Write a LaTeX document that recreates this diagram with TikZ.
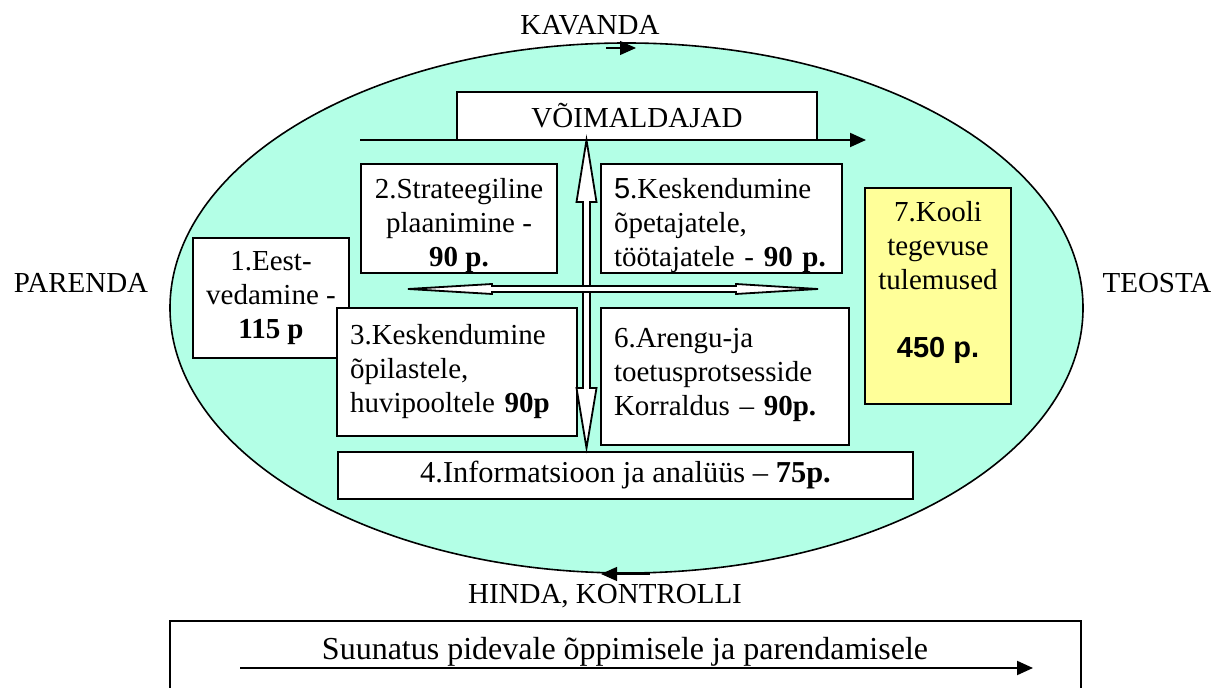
\documentclass[tikz,border=0pt]{standalone}
\usepackage{fontspec}
\setmainfont{Liberation Serif}
\setsansfont{Liberation Sans}
\usepackage{tikz}
\usetikzlibrary{arrows.meta}
\usetikzlibrary{shapes.geometric}
\definecolor{cyclefill}{RGB}{179,255,230}
\definecolor{resultfill}{RGB}{255,255,153}
\tikzset{basic/.style={draw,fill=white,line width=1pt,inner sep=0pt}}
\tikzset{centred/.style={basic,align=center}}
\tikzset{lefted/.style={basic,align=left,inner xsep=6.5pt}}
\tikzset{phase/.style={anchor=base,inner sep=0pt}}
\newcommand{\pts}[1]{\textbf{#1}}

\begin{document}
\begin{tikzpicture}[%
		x = 0.5pt, y = -0.5pt, % pixel grid
		> = {Triangle[length=8pt,width=7pt]}, % arrow head style
		semithick, % line style
		every node/.style={font=\fontsize{14.5}{17}\selectfont}
		]
		\useasboundingbox (0,0) rectangle (1215,688);
		
		% Cycle
		\node[ellipse, draw, fill=cyclefill, line width=0.8pt,
		minimum width=456.5pt, minimum height=265pt, inner sep=0pt] (pdca) at (626.5,308) {};
		
		\node[phase] (kavanda) at (590,35) {KAVANDA};
		\node[phase] (parenda) at (81,293) {PARENDA};
		\node[phase] (teosta) at (1157,293) {TEOSTA};
		\node[phase] (hinda) at (605,604) {HINDA, KONTROLLI};
		
		\coordinate (kav1) at (606,48);
		\coordinate (kav2) at (636,48);
		\coordinate (hin1) at (650,574);
		\coordinate (hin2) at (601,574);
		\draw[->] (kav1) -- (kav2);
		\draw[->] (hin1) -- (hin2);
		
		% Enablers
		\node[centred, minimum width=180pt, minimum height=24pt] (enab) at (637,116) {VÕIMALDAJAD};
		\coordinate (enL) at (360,140);
		\coordinate (enR) at (866,140);
		\draw[->, line width=1pt] (enL) -- (enR);
		
		\node[centred, minimum width=78pt, minimum height=60pt] (lead) at (271,298)
		{1.Eest-\\vedamine -\\\pts{115 p}};
		\node[centred, minimum width=98pt, minimum height=54.5pt] (plan) at (459,218.5)
		{\mbox{}\\2.Strateegiline\\plaanimine -\\\pts{90 p.}};
		\node[lefted, text width=107pt, minimum height=64pt] (pupil) at (457,372)
		{3.Keskendumine\\õpilastele,\\huvipooltele \pts{90p}};
		\node[lefted, text width=107.5pt, minimum height=54.5pt] (staff) at (721.5,218.5)
		{\mbox{}\\\textsf{5}.Keskendumine\\õpetajatele,\\töötajatele - \pts{90 p.}};
		\node[lefted, text width=111pt, minimum height=68.5pt] (proc) at (725,376.5)
		{6.Arengu-ja\\toetusprotsesside\\Korraldus – \pts{90p.}\\[-12pt]\mbox{}};
		\node[centred, fill=resultfill, minimum width=73pt, minimum height=108pt] (result) at (938,296)
		{7.Kooli\\tegevuse\\tulemused\\[17pt]\textsf{\bfseries 450 p.}\\\mbox{}};
		\node[centred, minimum width=287.5pt, minimum height=23.5pt,
		font=\fontsize{15.2}{17}\selectfont] (info) at (625.5,475.5)
		{4.Informatsioon ja analüüs – \pts{75p.}};
		
		% Double arrows
		\draw[fill=white, line width=0.9pt] (586.5,140) -- (596.5,202) -- (590,202) -- (590,388) -- (596.5,388)
		-- (586.5,448) -- (576.5,388) -- (583,388) -- (583,202) -- (576.5,202) -- cycle;
		\draw[fill=white, line width=0.9pt] (408,289) -- (492,284) -- (492,286) -- (736,286) -- (736,284)
		-- (818,289) -- (736,294) -- (736,292) -- (492,292) -- (492,294) -- cycle;
		
		% Learning
		\draw[line width=1pt] (170,688) -- (170,621) -- (1081,621) -- (1081,688);
		\node[phase, font=\fontsize{16}{18}\selectfont] (learn) at (625,660)
		{Suunatus pidevale õppimisele ja parendamisele};
		\coordinate (lrnL) at (240,668);
		\coordinate (lrnR) at (1033,668);
		\draw[->, line width=1pt] (lrnL) -- (lrnR);
\end{tikzpicture}
\end{document}
